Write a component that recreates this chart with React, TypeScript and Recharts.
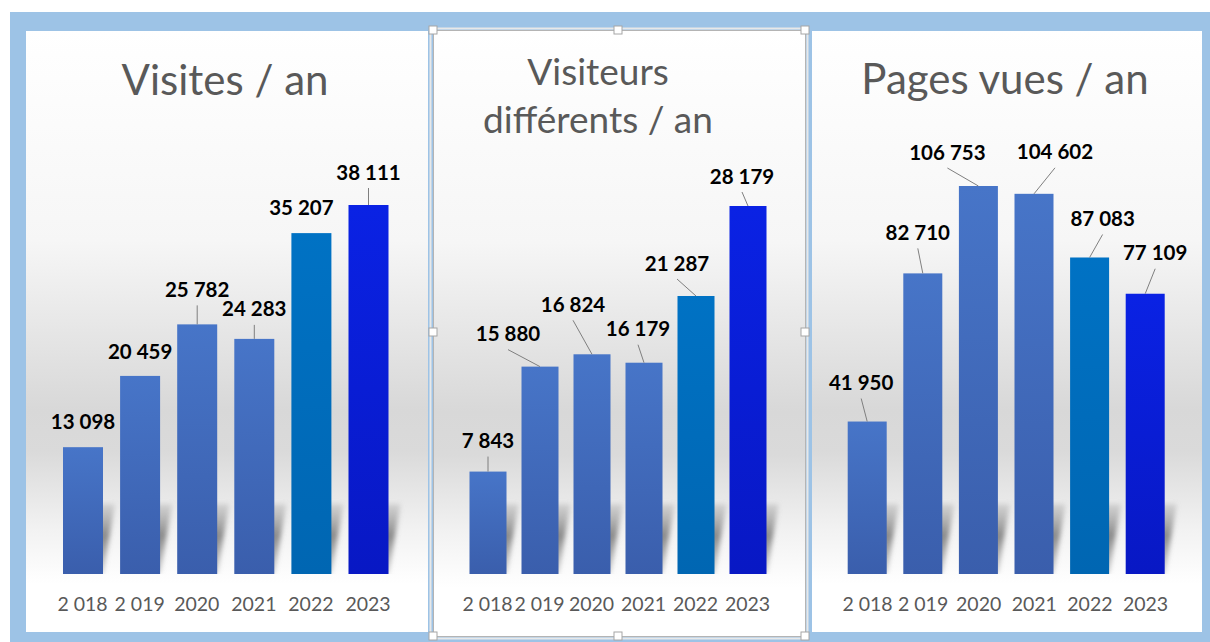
import React from 'react';
import { BarChart, Bar, XAxis, YAxis, Cell, LabelList } from 'recharts';

// categories + values
const years = ['2 018', '2 019', '2020', '2021', '2022', '2023'];
const visites = [13098, 20459, 25782, 24283, 35207, 38111];
const visiteurs = [7843, 15880, 16824, 16179, 21287, 28179];
const pagesVues = [41950, 82710, 106753, 104602, 87083, 77109];

// styles
const barColors = ['#4472c4', '#4472c4', '#4472c4', '#4472c4', '#0070c0', '#0a1fe0'];
const gradStops: Record<string, [string, string]> = {
  '#4472c4': ['#4775c8', '#3a5eac'],
  '#0070c0': ['#0072c4', '#0066b2'],
  '#0a1fe0': ['#0a22e4', '#0818c4'],
};
const FONT = 'Lato, "Open Sans", sans-serif';

// label placement relative to the bar top centre: [dx, dy, leader line]
type LabelPos = [number, number, boolean];
const visitesLabelPos: LabelPos[] = [
  [0, -26, false], [0, -24, false], [0, -35, true], [0, -30, true], [-10, -26, false], [0, -33, true],
];
const visiteursLabelPos: LabelPos[] = [
  [0, -31, true], [-32, -33, true], [-19, -50, true], [-6, -34, true], [-19, -33, true], [-6, -30, true],
];
const pagesLabelPos: LabelPos[] = [
  [-6, -39, true], [-5, -41, true], [-31, -34, true], [21, -42, true], [13, -39, true], [10, -41, true],
];

const fmt = (n: number) => String(n).replace(/\B(?=(\d{3})+(?!\d))/g, ' ');

const BASE_Y = 574;

interface PanelCfg {
  id: string;
  values: number[];
  labelPos: LabelPos[];
  left: number;
  width: number;
  plotLeft: number;
  plotWidth: number;
  plotTop: number;
  barSize: number;
}

const panels: PanelCfg[] = [
  { id: 'p1', values: visites, labelPos: visitesLabelPos, left: 26, width: 402, plotLeft: 54, plotWidth: 342.6, plotTop: 205, barSize: 40 },
  { id: 'p2', values: visiteurs, labelPos: visiteursLabelPos, left: 433, width: 372, plotLeft: 461.5, plotWidth: 312, plotTop: 206, barSize: 37 },
  { id: 'p3', values: pagesVues, labelPos: pagesLabelPos, left: 812, width: 390, plotLeft: 839.7, plotWidth: 333.6, plotTop: 186, barSize: 39 },
];

function Panel({ cfg }: { cfg: PanelCfg }) {
  const data = years.map((year, i) => ({ year, value: cfg.values[i] }));
  const yMax = Math.max(...cfg.values);
  const colorKeys = Object.keys(gradStops);
  const gradId = (c: string) => `${cfg.id}-g${colorKeys.indexOf(c)}`;

  // bar + its soft floor shadow leaning to the right
  const renderBar = (props: any) => {
    const { x, y, width, height, fill } = props;
    const base = y + height;
    const sh = 70;
    const sk = 12;
    const pts = `${x + 4},${base} ${x + width},${base} ${x + width + sk},${base - sh} ${x + sk + 4},${base - sh}`;
    return (
      <g>
        <polygon points={pts} fill={`url(#${cfg.id}-shadow)`} filter={`url(#${cfg.id}-blur)`} />
        <rect x={x} y={y} width={width} height={height} fill={`url(#${gradId(fill)})`} />
      </g>
    );
  };

  const renderLabel = (props: any) => {
    const vb = props.viewBox || props;
    const { x, y, width } = vb;
    const i = props.index;
    const [dx, dy, leader] = cfg.labelPos[i];
    const cx = x + width / 2;
    const lx = cx + dx;
    const ly = y + dy;
    return (
      <g>
        {leader && <line x1={lx} y1={ly + 16} x2={cx} y2={y} stroke="#7f7f7f" strokeWidth={1} />}
        <text x={lx} y={ly + 7.5} textAnchor="middle" fontFamily={FONT} fontWeight={700} fontSize={20.5} fill="#000">
          {fmt(props.value)}
        </text>
      </g>
    );
  };

  return (
    <div style={{ position: 'absolute', left: cfg.left, top: 0, width: cfg.width, height: 642 }}>
      <BarChart
        width={cfg.width}
        height={642}
        data={data}
        margin={{
          top: cfg.plotTop,
          bottom: 642 - BASE_Y - 30,
          left: cfg.plotLeft - cfg.left,
          right: cfg.left + cfg.width - (cfg.plotLeft + cfg.plotWidth),
        }}
      >
        <defs>
          {colorKeys.map((c) => (
            <linearGradient key={c} id={gradId(c)} x1="0" y1="0" x2="0" y2="1">
              <stop offset="0%" stopColor={gradStops[c][0]} />
              <stop offset="100%" stopColor={gradStops[c][1]} />
            </linearGradient>
          ))}
          <linearGradient id={`${cfg.id}-shadow`} x1="0" y1="1" x2="0" y2="0">
            <stop offset="0%" stopColor="#8c8c8c" stopOpacity={0.4} />
            <stop offset="55%" stopColor="#777777" stopOpacity={0.85} />
            <stop offset="100%" stopColor="#8c8c8c" stopOpacity={0.25} />
          </linearGradient>
          <filter id={`${cfg.id}-blur`} x="-50%" y="-50%" width="200%" height="200%">
            <feGaussianBlur stdDeviation={2.5} />
          </filter>
        </defs>
        <XAxis
          dataKey="year"
          axisLine={false}
          tickLine={false}
          interval={0}
          tickMargin={17}
          tick={{ fill: '#595959', fontSize: 19.5, fontFamily: FONT }}
        />
        <YAxis hide domain={[0, yMax]} allowDataOverflow />
        <Bar dataKey="value" barSize={cfg.barSize} isAnimationActive={false} shape={renderBar}>
          {data.map((d, i) => (
            <Cell key={d.year} fill={barColors[i]} />
          ))}
          <LabelList dataKey="value" content={renderLabel} />
        </Bar>
      </BarChart>
    </div>
  );
}

const handles = [
  [433, 30], [618, 30], [805, 30], [433, 332], [805, 332], [433, 636], [618, 636], [805, 636],
];

function Backdrop() {
  return (
    <svg width={1210} height={642} style={{ position: 'absolute', left: 0, top: 0 }}>
      <defs>
        <linearGradient id="panelBg" x1="0" y1="0" x2="0" y2="1">
          <stop offset="0%" stopColor="#ffffff" />
          <stop offset="35%" stopColor="#f6f6f6" />
          <stop offset="63%" stopColor="#d8d8d8" />
          <stop offset="70%" stopColor="#dadada" />
          <stop offset="83%" stopColor="#f2f2f2" />
          <stop offset="92%" stopColor="#ffffff" />
          <stop offset="100%" stopColor="#ffffff" />
        </linearGradient>
      </defs>
      <rect x={0} y={0} width={1210} height={642} fill="#ffffff" />
      <rect x={10} y={12} width={1200} height={630} fill="#9dc3e6" />
      <rect x={26} y={31} width={402} height={601} fill="url(#panelBg)" />
      <rect x={433} y={30} width={372} height={606} fill="url(#panelBg)" />
      <rect x={812} y={31} width={390} height={601} fill="url(#panelBg)" />
      <rect x={433.5} y={30.5} width={372} height={606} fill="none" stroke="#b4b4b4" strokeWidth={1} />
      <rect x={430.5} y={28.5} width={377} height={610} fill="none" stroke="#e8e8e8" strokeWidth={2} />
      {handles.map(([hx, hy], i) => (
        <rect key={i} x={hx - 4} y={hy - 4} width={8} height={8} fill="#ffffff" stroke="#a6a6a6" strokeWidth={1} />
      ))}
      <g fontFamily={FONT} fill="#595959" textAnchor="middle">
        <text x={225} y={95} fontSize={42}>Visites / an</text>
        <text x={598} y={85} fontSize={37}>Visiteurs</text>
        <text x={598} y={133} fontSize={37}>différents / an</text>
        <text x={1005} y={94} fontSize={42}>Pages vues / an</text>
      </g>
    </svg>
  );
}

export default function App() {
  return (
    <div style={{ position: 'absolute', left: 0, top: 0, width: 1210, height: 642, overflow: 'hidden' }}>
      <Backdrop />
      {panels.map((p) => (
        <Panel key={p.id} cfg={p} />
      ))}
    </div>
  );
}
